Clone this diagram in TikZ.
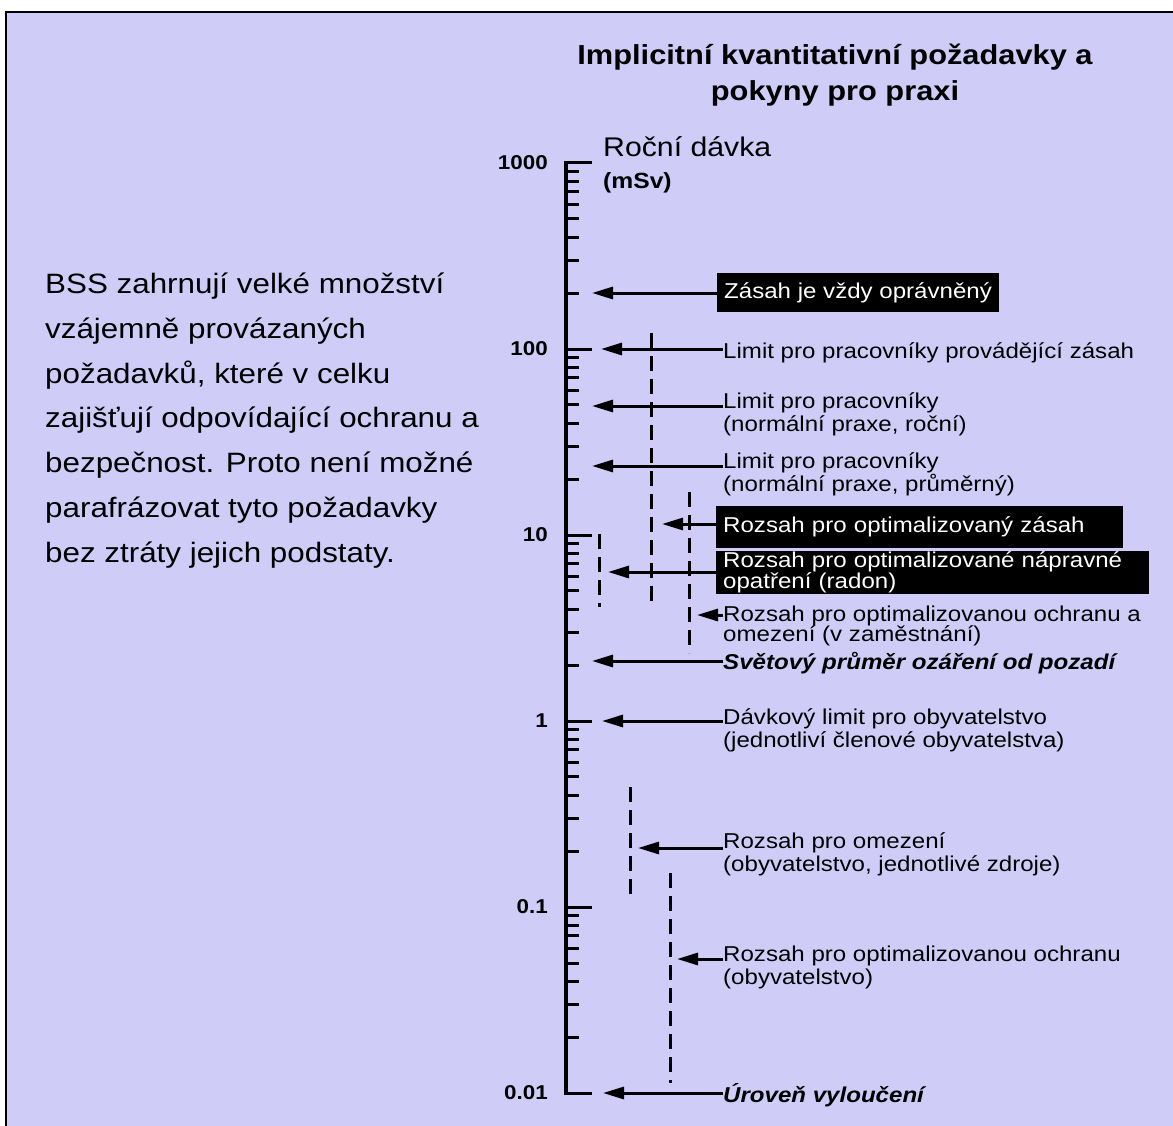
\documentclass[tikz,border=0pt]{standalone}
\usepackage{fontspec}
\setmainfont[FakeStretch=1.12]{Liberation Sans}
\usetikzlibrary{arrows.meta}
\definecolor{lavender}{RGB}{207,205,248}
\tikzset{
  ptr/.style={line width=3pt,-{Triangle[length=21pt,width=12pt]}},
  rangebar/.style={line width=3pt,dash pattern=on 15pt off 8pt},
  tickmark/.style={line width=3pt},
  note/.style={anchor=base west,inner sep=0pt,align=left,font=\fontsize{21.5}{23}\selectfont},
  blackbox/.style={anchor=west,fill=black,text=white,inner xsep=7pt,inner ysep=0pt,align=left,font=\fontsize{21.5}{18}\selectfont},
  num/.style={anchor=east,inner sep=0pt,font=\bfseries\fontsize{20}{20}\selectfont}
}
\begin{document}
\lineskiplimit=-40pt
\begin{tikzpicture}[x=1pt,y=-1pt]
\useasboundingbox (0,0) rectangle (1173,1126);
% background and frame
\fill[lavender] (6,12) rectangle (1173,1126);
\draw[line width=2.5pt] (6,1126) -- (6,12) -- (1173,12);

% title
\node[font=\bfseries\fontsize{27.5}{36}\selectfont,align=center] (title) at (835,75) {Implicitní kvantitativní požadavky a\\pokyny pro praxi};

% text on the left (base = last line)
\node[anchor=base west,inner sep=0pt,align=left,font=\fontsize{28}{44.7}\selectfont] (bss) at (45,562) {BSS zahrnují velké množství\\vzájemně provázaných\\požadavků, které v celku\\zajišťují odpovídající ochranu a\\bezpečnost. Proto není možné\\parafrázovat tyto požadavky\\bez ztráty jejich podstaty.};

% log axis
\draw[line width=4pt] (566,161.5) -- (566,1094.5);
\foreach \d in {0,...,4}
  \foreach \m in {2,...,9}
    \draw[tickmark] (566,{163+186*(\d+1-log10(\m))}) -- ++(13,0);
\foreach \v [count=\i from 0] in {1000,100,10,1,0.1,0.01} {
  \draw[tickmark] (566,163+186*\i) -- ++(26,0);
  \node[num] (n\i) at (548,163+186*\i) {\v};
}
\node[anchor=base west,inner sep=0pt,font=\fontsize{27}{27}\selectfont] (osa) at (603,157) {Roční dávka};
\node[anchor=base west,inner sep=0pt,font=\bfseries\fontsize{22}{22}\selectfont] (jedn) at (603,189) {(mSv)};

% ranges
\draw[rangebar] (651,333) -- (651,608);
\draw[rangebar] (689,492) -- (689,653);
\draw[rangebar] (599,534) -- (599,607);
\draw[rangebar] (630,787) -- (630,897);
\draw[rangebar] (670,873) -- (670,1083);

% labels (base = last line)
\node[blackbox,minimum height=39pt] (zasah) at (717,292.5) {Zásah je vždy oprávněný};
\node[note] (limzas) at (723,358) {Limit pro pracovníky provádějící zásah};
\node[note] (limroc) at (723,431) {Limit pro pracovníky\\(normální praxe, roční)};
\node[note] (limpru) at (723,491) {Limit pro pracovníky\\(normální praxe, průměrný)};
\node[blackbox,text width=393pt,minimum height=42pt] (optzas) at (716,526.5) {Rozsah pro optimalizovaný zásah};
\node[blackbox,text width=419pt,minimum height=43pt] (radon) at (716,572.5) {Rozsah pro optimalizované nápravné\\opatření (radon)};
\node[note,font=\fontsize{21.5}{19.5}\selectfont] (zam) at (723,641) {Rozsah pro optimalizovanou ochranu a\\omezení (v zaměstnání)};
\node[note] (pozadi) at (723,669) {\bfseries\itshape Světový průměr ozáření od pozadí};
\node[note] (obyv) at (723,747) {Dávkový limit pro obyvatelstvo\\(jednotliví členové obyvatelstva)};
\node[note] (omez) at (723,871) {Rozsah pro omezení\\(obyvatelstvo, jednotlivé zdroje)};
\node[note] (optoch) at (723,984) {Rozsah pro optimalizovanou ochranu\\(obyvatelstvo)};
\node[note] (vylouc) at (723,1102) {\bfseries\itshape Úroveň vyloučení};

% arrow tips
\coordinate (t1) at (592,293);
\coordinate (t2) at (601,349);
\coordinate (t3) at (592,406);
\coordinate (t4) at (592,466);
\coordinate (t5) at (662,524);
\coordinate (t6) at (608,572);
\coordinate (t7) at (697,615);
\coordinate (t8) at (592,661);
\coordinate (t9) at (602,721);
\coordinate (t10) at (638,848);
\coordinate (t11) at (677,959);
\coordinate (t12) at (603,1093);

\draw[ptr] (zasah.west |- t1) -- (t1);
\draw[ptr] (limzas.west |- t2) -- (t2);
\draw[ptr] (limroc.west |- t3) -- (t3);
\draw[ptr] (limpru.west |- t4) -- (t4);
\draw[ptr] (optzas.west |- t5) -- (t5);
\draw[ptr] (radon.west |- t6) -- (t6);
\draw[ptr] (zam.west |- t7) -- (t7);
\draw[ptr] (pozadi.west |- t8) -- (t8);
\draw[ptr] (obyv.west |- t9) -- (t9);
\draw[ptr] (omez.west |- t10) -- (t10);
\draw[ptr] (optoch.west |- t11) -- (t11);
\draw[ptr] (vylouc.west |- t12) -- (t12);
\end{tikzpicture}
\end{document}
